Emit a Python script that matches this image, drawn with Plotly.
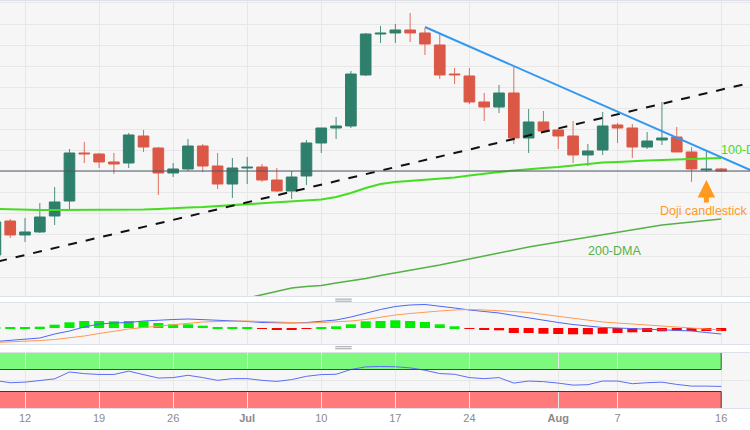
import plotly.graph_objects as go
from plotly.subplots import make_subplots

# Daily EUR/USD candles, 8 Jun - 16 Aug 2023
dates = [
    "2023-06-08", "2023-06-09",
    "2023-06-12", "2023-06-13", "2023-06-14", "2023-06-15", "2023-06-16",
    "2023-06-19", "2023-06-20", "2023-06-21", "2023-06-22", "2023-06-23",
    "2023-06-26", "2023-06-27", "2023-06-28", "2023-06-29", "2023-06-30",
    "2023-07-03", "2023-07-04", "2023-07-05", "2023-07-06", "2023-07-07",
    "2023-07-10", "2023-07-11", "2023-07-12", "2023-07-13", "2023-07-14",
    "2023-07-17", "2023-07-18", "2023-07-19", "2023-07-20", "2023-07-21",
    "2023-07-24", "2023-07-25", "2023-07-26", "2023-07-27", "2023-07-28",
    "2023-07-31", "2023-08-01", "2023-08-02", "2023-08-03", "2023-08-04",
    "2023-08-07", "2023-08-08", "2023-08-09", "2023-08-10", "2023-08-11",
    "2023-08-14", "2023-08-15", "2023-08-16",
]
opens = [
    1.07026, 1.07831,
    1.07500, 1.07571, 1.07950, 1.08305, 1.09443,
    1.09419, 1.09230, 1.09206, 1.09846, 1.09561,
    1.08969, 1.09064, 1.09609, 1.09135, 1.08708,
    1.09087, 1.09111, 1.08803, 1.08542, 1.08898,
    1.09680, 1.10035, 1.10083, 1.11292, 1.12263,
    1.12287, 1.12358, 1.12287, 1.12003, 1.11315,
    1.11268, 1.10652, 1.10533, 1.10865, 1.09798,
    1.10178, 1.09988, 1.09846, 1.09396, 1.09514,
    1.10107, 1.10035, 1.09585, 1.09751, 1.09822,
    1.09467, 1.09040, 1.09064,
]
highs = [
    1.07879, 1.07879,
    1.07902, 1.08258, 1.08637, 1.09538, 1.09704,
    1.09443, 1.09443, 1.09917, 1.09988, 1.09585,
    1.09206, 1.09775, 1.09656, 1.09443, 1.09324,
    1.09348, 1.09182, 1.09087, 1.09016, 1.09751,
    1.10035, 1.10296, 1.11386, 1.12287, 1.12453,
    1.12500, 1.12761, 1.12405, 1.12263, 1.11457,
    1.11457, 1.10865, 1.11055, 1.11481, 1.10486,
    1.10438, 1.10035, 1.10201, 1.09656, 1.10415,
    1.10154, 1.10130, 1.09941, 1.10652, 1.10059,
    1.09585, 1.09490, 1.09087,
]
lows = [
    1.06907, 1.07428,
    1.07334, 1.07547, 1.07737, 1.08068, 1.09206,
    1.09087, 1.08945, 1.09087, 1.09467, 1.08448,
    1.08874, 1.09016, 1.08993, 1.08590, 1.08376,
    1.08708, 1.08756, 1.08519, 1.08353, 1.08685,
    1.09443, 1.09775, 1.10035, 1.11268, 1.12050,
    1.12050, 1.12074, 1.11766, 1.11197, 1.11078,
    1.10604, 1.10201, 1.10391, 1.09656, 1.09443,
    1.09964, 1.09538, 1.09206, 1.09135, 1.09396,
    1.09680, 1.09324, 1.09538, 1.09633, 1.09467,
    1.08756, 1.08993, 1.08993,
]
closes = [
    1.07808, 1.07500,
    1.07571, 1.07926, 1.08282, 1.09443, 1.09419,
    1.09230, 1.09182, 1.09870, 1.09585, 1.08969,
    1.09064, 1.09609, 1.09135, 1.08708, 1.09087,
    1.09111, 1.08803, 1.08542, 1.08874, 1.09680,
    1.10035, 1.10083, 1.11315, 1.12263, 1.12287,
    1.12358, 1.12287, 1.12026, 1.11292, 1.11292,
    1.10652, 1.10533, 1.10865, 1.09798, 1.10178,
    1.09964, 1.09846, 1.09396, 1.09490, 1.10083,
    1.10035, 1.09585, 1.09727, 1.09798, 1.09467,
    1.09064, 1.09064, 1.09016,
]
dma100 = [
    1.08116, 1.08104,
    1.08092, 1.08092, 1.08092, 1.08092, 1.08092,
    1.08092, 1.08092, 1.08092, 1.08104, 1.08116,
    1.08139, 1.08151, 1.08163, 1.08187, 1.08198,
    1.08222, 1.08246, 1.08270, 1.08294, 1.08317,
    1.08341, 1.08400, 1.08495, 1.08613, 1.08708,
    1.08756, 1.08779, 1.08803, 1.08827, 1.08862,
    1.08910, 1.08957, 1.08993, 1.09028, 1.09064,
    1.09087, 1.09111, 1.09147, 1.09182, 1.09218,
    1.09230, 1.09253, 1.09265, 1.09277, 1.09289,
    1.09301, 1.09313, 1.09324,
]
dma200_dates = dates[16:]
dma200 = [
    1.05923,
    1.06006, 1.06089, 1.06172, 1.06243, 1.06279,
    1.06303, 1.06362, 1.06409, 1.06469, 1.06540,
    1.06599, 1.06658, 1.06717, 1.06789, 1.06860,
    1.06931, 1.07014, 1.07085, 1.07156, 1.07215,
    1.07274, 1.07334, 1.07393, 1.07452, 1.07511,
    1.07571, 1.07630, 1.07689, 1.07737, 1.07772,
    1.07808, 1.07843, 1.07879,
]

# hand-drawn trend lines (end points)
support_x = ["2023-06-07", "2023-08-18"]
support_y = [1.06774, 1.11109]
resistance_x = ["2023-07-19", "2023-08-18"]
resistance_y = [1.12429, 1.09033]

# MACD (12, 26, 9)
macd = [
    -0.00135, -0.00125,
    -0.00115, -0.00100, -0.00060, -0.00030, 0.00010,
    0.00040, 0.00050, 0.00055, 0.00070, 0.00080,
    0.00085, 0.00090, 0.00085, 0.00075, 0.00070,
    0.00065, 0.00055, 0.00050, 0.00050, 0.00055,
    0.00065, 0.00080, 0.00110, 0.00150, 0.00185,
    0.00215, 0.00230, 0.00235, 0.00220, 0.00200,
    0.00180, 0.00165, 0.00150, 0.00125, 0.00100,
    0.00075, 0.00055, 0.00035, 0.00020, 0.00005,
    0.00000, -0.00005, -0.00010, -0.00015, -0.00020,
    -0.00030, -0.00045, -0.00060,
]
signal = [
    -0.00145, -0.00140,
    -0.00135, -0.00125, -0.00115, -0.00100, -0.00080,
    -0.00055, -0.00030, -0.00010, 0.00005, 0.00020,
    0.00035, 0.00050, 0.00060, 0.00065, 0.00070,
    0.00070, 0.00065, 0.00060, 0.00055, 0.00050,
    0.00055, 0.00060, 0.00070, 0.00085, 0.00110,
    0.00130, 0.00145, 0.00160, 0.00170, 0.00180,
    0.00185, 0.00180, 0.00175, 0.00165, 0.00155,
    0.00135, 0.00115, 0.00095, 0.00075, 0.00060,
    0.00050, 0.00040, 0.00030, 0.00020, 0.00015,
    0.00005, -0.00005, -0.00020,
]
histogram = [
    0.00006, 0.00008,
    0.00010, 0.00013, 0.00033, 0.00057, 0.00070,
    0.00070, 0.00067, 0.00070, 0.00067, 0.00050,
    0.00037, 0.00037, 0.00023, 0.00010, 0.00008,
    0.00003, -0.00004, -0.00015, -0.00015, -0.00002,
    0.00010, 0.00017, 0.00037, 0.00067, 0.00070,
    0.00077, 0.00070, 0.00060, 0.00037, 0.00017,
    -0.00003, -0.00018, -0.00023, -0.00050, -0.00050,
    -0.00057, -0.00060, -0.00063, -0.00063, -0.00057,
    -0.00050, -0.00043, -0.00040, -0.00033, -0.00027,
    -0.00030, -0.00030, -0.00030,
]

# RSI (14)
rsi = [
    50.0, 46.0,
    47.0, 50.0, 53.0, 65.5, 62.5,
    61.0, 61.0, 67.0, 61.0, 54.5,
    55.3, 59.5, 55.3, 50.3, 53.4,
    53.4, 50.3, 48.4, 51.6, 57.6,
    60.8, 61.3, 70.0, 74.8, 75.5,
    75.0, 73.0, 68.7, 62.6, 61.3,
    55.3, 53.4, 55.3, 45.3, 49.0,
    47.9, 45.3, 41.6, 42.4, 49.0,
    49.0, 44.2, 46.0, 47.0, 42.9,
    39.8, 39.8, 39.2,
]

tick_dates = ["2023-06-12", "2023-06-19", "2023-06-26", "2023-07-03", "2023-07-10",
              "2023-07-17", "2023-07-24", "2023-08-01", "2023-08-07", "2023-08-16"]
tick_labels = ["12", "19", "26", "<b>Jul</b>", "10", "17", "24", "<b>Aug</b>", "7", "16"]

GREEN = "#2e7f6b"
RED = "#db5846"
ORANGE = "#ff9a1f"
PANEL = "#f6f6f6"
GRID = "#e7e7e7"
BORDER = "#dde2ea"
DAY_MS = 86400000

fig = make_subplots(rows=3, cols=1, shared_xaxes=True, vertical_spacing=0.02)

# candles: wick lines + body bars, split by direction
for rising, color in ((True, GREEN), (False, RED)):
    idx = [i for i in range(len(dates)) if (closes[i] >= opens[i]) == rising]
    wick_x, wick_y = [], []
    for i in idx:
        wick_x += [dates[i], dates[i], None]
        wick_y += [lows[i], highs[i], None]
    fig.add_trace(go.Scatter(x=wick_x, y=wick_y, mode="lines", line={"color": color, "width": 1},
                             opacity=0.85, showlegend=False, hoverinfo="skip"), row=1, col=1)
    fig.add_trace(go.Bar(
        x=[dates[i] for i in idx],
        base=[min(opens[i], closes[i]) for i in idx],
        y=[abs(closes[i] - opens[i]) for i in idx],
        width=0.72 * DAY_MS,
        marker={"color": color, "line": {"color": color, "width": 1}},
        showlegend=False, hoverinfo="skip",
    ), row=1, col=1)

fig.add_trace(go.Scatter(x=dates, y=dma100, mode="lines",
                         line={"color": "#45dd22", "width": 2}, showlegend=False), row=1, col=1)
fig.add_trace(go.Scatter(x=dma200_dates, y=dma200, mode="lines",
                         line={"color": "#56b048", "width": 1.5}, showlegend=False), row=1, col=1)
fig.add_trace(go.Scatter(x=support_x, y=support_y, mode="lines",
                         line={"color": "#111111", "width": 2, "dash": "dash"}, showlegend=False), row=1, col=1)
fig.add_trace(go.Scatter(x=resistance_x, y=resistance_y, mode="lines",
                         line={"color": "#3399ee", "width": 2}, showlegend=False), row=1, col=1)

hist_colors = ["#00ee00" if v >= 0 else "#ff0000" for v in histogram]
fig.add_trace(go.Bar(x=dates, y=histogram, width=0.68 * DAY_MS,
                     marker={"color": hist_colors, "line": {"width": 0}},
                     showlegend=False), row=2, col=1)
fig.add_trace(go.Scatter(x=dates, y=macd, mode="lines",
                         line={"color": "#4d66f5", "width": 1}, showlegend=False), row=2, col=1)
fig.add_trace(go.Scatter(x=dates, y=signal, mode="lines",
                         line={"color": "#ff9a55", "width": 1}, showlegend=False), row=2, col=1)

fig.add_trace(go.Scatter(x=dates, y=rsi, mode="lines",
                         line={"color": "#5b6ef5", "width": 1}, showlegend=False), row=3, col=1)

# RSI overbought / oversold zones
fig.add_shape(type="rect", xref="x3", yref="y3", x0="2023-06-01", x1=dates[-1], y0=70, y1=100,
              fillcolor="#7dfa7d", line={"width": 0}, layer="below")
fig.add_shape(type="rect", xref="x3", yref="y3", x0="2023-06-01", x1=dates[-1], y0=0, y1=30,
              fillcolor="#ff7b7b", line={"width": 0}, layer="below")
fig.add_shape(type="line", xref="x3", yref="y3", x0="2023-06-01", x1=dates[-1], y0=70, y1=70,
              line={"color": "#2f5a2f", "width": 1})
fig.add_shape(type="line", xref="x3", yref="y3", x0=dates[-1], x1=dates[-1], y0=70, y1=100,
              line={"color": "#2f5a2f", "width": 1})
fig.add_shape(type="line", xref="x3", yref="y3", x0="2023-06-01", x1=dates[-1], y0=30, y1=30,
              line={"color": "#5a2a2a", "width": 1})
fig.add_shape(type="line", xref="x3", yref="y3", x0=dates[-1], x1=dates[-1], y0=0, y1=30,
              line={"color": "#5a2a2a", "width": 1})

# last price line
fig.add_shape(type="line", xref="x domain", yref="y", x0=0, x1=1, y0=closes[-1], y1=closes[-1],
              line={"color": "#4e5666", "width": 1})

# panel resize handles
for yy in (0.2675, 0.2625, 0.1505, 0.1455):
    fig.add_shape(type="line", xref="paper", yref="paper", x0=0.447, x1=0.469, y0=yy, y1=yy,
                  line={"color": "#a0a0a0", "width": 1})

fig.add_annotation(x=dates[48], y=1.08803, ax=0, ay=24, text="", showarrow=True,
                   arrowhead=2, arrowsize=0.7, arrowwidth=5, arrowcolor=ORANGE, xref="x", yref="y")
fig.add_annotation(x=dates[48], y=1.08068, text="Doji candlestick", showarrow=False,
                   xanchor="center", xshift=-2, font={"color": ORANGE, "size": 12.5})
fig.add_annotation(x=dates[49], y=1.09514, text="100-DMA", showarrow=False,
                   xanchor="left", xshift=-2, font={"color": "#45dd22", "size": 12.5})
fig.add_annotation(x=dates[42], y=1.07120, text="200-DMA", showarrow=False,
                   xanchor="center", xshift=-3, font={"color": "#56b048", "size": 12.5})

x_range = ["2023-06-08 07:27", "2023-08-17 22:41"]
fig.update_xaxes(range=x_range, rangebreaks=[{"bounds": ["sat", "mon"]}],
                 tickvals=tick_dates, ticktext=tick_labels, showgrid=True, gridcolor=GRID,
                 showline=True, mirror=True, linecolor=BORDER, zeroline=False,
                 rangeslider={"visible": False}, ticks="", fixedrange=True)
fig.update_xaxes(showticklabels=False, row=1, col=1)
fig.update_xaxes(showticklabels=False, row=2, col=1)
fig.update_xaxes(showticklabels=True, tickfont={"color": "#8a8a8a", "size": 11}, row=3, col=1)

fig.update_yaxes(showticklabels=False, showline=True, mirror=True, linecolor=BORDER,
                 zeroline=False, gridcolor=GRID, ticks="")
fig.update_yaxes(domain=[0.2752, 1.0], range=[1.06054, 1.13045], dtick=0.005, tick0=1.09,
                 row=1, col=1)
fig.update_yaxes(domain=[0.1572, 0.2580], range=[-0.0016, 0.0025], showgrid=False, row=2, col=1)
fig.update_yaxes(domain=[0.0, 0.1351], range=[0, 100], tickvals=[50], row=3, col=1)

fig.update_layout(
    width=750, height=430,
    margin={"l": 0, "r": 0, "t": 1, "b": 22},
    paper_bgcolor="white", plot_bgcolor=PANEL,
    font={"family": "Liberation Sans, Arial, sans-serif"},
    barmode="overlay", showlegend=False,
)

fig.write_html("out.html", config={"displayModeBar": False},
               post_script="document.body.style.margin='0';")
